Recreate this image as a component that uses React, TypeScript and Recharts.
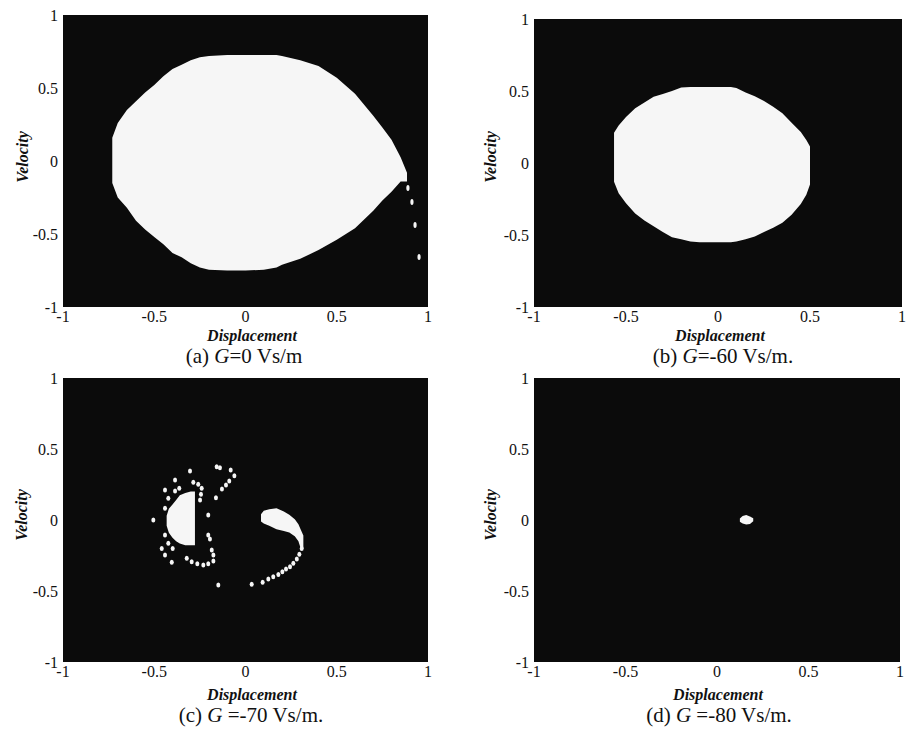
import { ComposedChart, Area, Scatter, XAxis, YAxis, CartesianGrid, Label } from 'recharts';

const SERIF = "'Liberation Serif', Tinos, 'Times New Roman', 'DejaVu Serif', serif";
const INK = '#111';
const BG = '#0b0b0b';
const BASIN = '#f6f6f6';

const AXIS_TICKS = [-1, -0.5, 0, 0.5, 1];

// (a) G=0 : main basin, velocity range [low, high] per displacement
const BASIN_A = [
  { x: -0.73, v: [-0.15, 0.16] },
  { x: -0.7, v: [-0.25, 0.26] },
  { x: -0.65, v: [-0.32, 0.35] },
  { x: -0.6, v: [-0.41, 0.41] },
  { x: -0.55, v: [-0.47, 0.47] },
  { x: -0.5, v: [-0.52, 0.52] },
  { x: -0.45, v: [-0.57, 0.58] },
  { x: -0.4, v: [-0.63, 0.63] },
  { x: -0.35, v: [-0.66, 0.66] },
  { x: -0.3, v: [-0.7, 0.69] },
  { x: -0.25, v: [-0.73, 0.71] },
  { x: -0.2, v: [-0.745, 0.72] },
  { x: -0.1, v: [-0.75, 0.726] },
  { x: 0, v: [-0.75, 0.726] },
  { x: 0.1, v: [-0.745, 0.726] },
  { x: 0.17, v: [-0.73, 0.726] },
  { x: 0.2, v: [-0.71, 0.72] },
  { x: 0.3, v: [-0.67, 0.69] },
  { x: 0.4, v: [-0.61, 0.65] },
  { x: 0.5, v: [-0.54, 0.57] },
  { x: 0.6, v: [-0.46, 0.46] },
  { x: 0.7, v: [-0.34, 0.31] },
  { x: 0.75, v: [-0.27, 0.23] },
  { x: 0.8, v: [-0.21, 0.145] },
  { x: 0.85, v: [-0.14, 0.025] },
  { x: 0.885, v: [-0.14, -0.08] },
];
// (a) isolated points trailing off the right tip
const TRAIL_A = [
  { x: 0.89, y: -0.185 },
  { x: 0.912, y: -0.281 },
  { x: 0.929, y: -0.438 },
  { x: 0.951, y: -0.658 },
];

// (b) G=-60
const BASIN_B = [
  { x: -0.565, v: [-0.13, 0.21] },
  { x: -0.54, v: [-0.21, 0.26] },
  { x: -0.5, v: [-0.28, 0.32] },
  { x: -0.45, v: [-0.35, 0.38] },
  { x: -0.4, v: [-0.4, 0.42] },
  { x: -0.35, v: [-0.44, 0.46] },
  { x: -0.3, v: [-0.48, 0.48] },
  { x: -0.25, v: [-0.515, 0.5] },
  { x: -0.2, v: [-0.53, 0.525] },
  { x: -0.15, v: [-0.545, 0.528] },
  { x: -0.1, v: [-0.55, 0.528] },
  { x: 0, v: [-0.55, 0.528] },
  { x: 0.07, v: [-0.55, 0.528] },
  { x: 0.1, v: [-0.545, 0.52] },
  { x: 0.15, v: [-0.53, 0.49] },
  { x: 0.2, v: [-0.51, 0.463] },
  { x: 0.25, v: [-0.48, 0.43] },
  { x: 0.3, v: [-0.45, 0.39] },
  { x: 0.35, v: [-0.415, 0.345] },
  { x: 0.4, v: [-0.36, 0.28] },
  { x: 0.45, v: [-0.285, 0.215] },
  { x: 0.48, v: [-0.22, 0.16] },
  { x: 0.5, v: [-0.15, 0.115] },
];

// (c) G=-70 : two fragments plus scattered points
const BASIN_C_LEFT = [
  { x: -0.432, v: [-0.04, 0.03] },
  { x: -0.42, v: [-0.09, 0.08] },
  { x: -0.4, v: [-0.125, 0.11] },
  { x: -0.38, v: [-0.15, 0.14] },
  { x: -0.36, v: [-0.165, 0.175] },
  { x: -0.33, v: [-0.178, 0.19] },
  { x: -0.3, v: [-0.178, 0.2] },
  { x: -0.277, v: [-0.178, 0.2] },
];
const BASIN_C_RIGHT = [
  { x: 0.085, v: [-0.01, 0.04] },
  { x: 0.1, v: [-0.025, 0.065] },
  { x: 0.13, v: [-0.04, 0.075] },
  { x: 0.17, v: [-0.065, 0.082] },
  { x: 0.21, v: [-0.078, 0.06] },
  { x: 0.24, v: [-0.088, 0.037] },
  { x: 0.27, v: [-0.115, 0.005] },
  { x: 0.29, v: [-0.15, -0.03] },
  { x: 0.3, v: [-0.19, -0.06] },
  { x: 0.317, v: [-0.2, -0.11] },
];
const SPECKS_C = [
  { x: -0.304, y: 0.345 }, { x: -0.158, y: 0.375 }, { x: -0.14, y: 0.368 },
  { x: -0.081, y: 0.352 }, { x: -0.061, y: 0.312 }, { x: -0.089, y: 0.275 },
  { x: -0.107, y: 0.246 }, { x: -0.129, y: 0.218 }, { x: -0.386, y: 0.282 },
  { x: -0.363, y: 0.223 }, { x: -0.386, y: 0.204 }, { x: -0.441, y: 0.211 },
  { x: -0.423, y: 0.153 }, { x: -0.162, y: 0.157 }, { x: -0.441, y: 0.082 },
  { x: -0.505, y: 0.0 }, { x: -0.204, y: 0.035 }, { x: -0.204, y: -0.106 },
  { x: -0.195, y: -0.134 }, { x: -0.185, y: -0.211 }, { x: -0.176, y: -0.246 },
  { x: -0.441, y: -0.106 }, { x: -0.423, y: -0.164 }, { x: -0.399, y: -0.2 },
  { x: -0.459, y: -0.2 }, { x: -0.441, y: -0.246 }, { x: -0.404, y: -0.298 },
  { x: -0.322, y: -0.27 }, { x: -0.295, y: -0.294 }, { x: -0.264, y: -0.308 },
  { x: -0.231, y: -0.317 }, { x: -0.204, y: -0.308 }, { x: -0.176, y: -0.289 },
  { x: -0.286, y: 0.265 }, { x: -0.259, y: 0.251 }, { x: -0.24, y: 0.223 },
  { x: -0.244, y: 0.181 }, { x: -0.249, y: 0.141 }, { x: -0.149, y: -0.458 },
  { x: 0.308, y: -0.2 }, { x: 0.295, y: -0.242 }, { x: 0.281, y: -0.275 },
  { x: 0.262, y: -0.305 }, { x: 0.244, y: -0.329 }, { x: 0.222, y: -0.345 },
  { x: 0.202, y: -0.364 }, { x: 0.18, y: -0.383 }, { x: 0.152, y: -0.399 },
  { x: 0.125, y: -0.415 }, { x: 0.094, y: -0.439 }, { x: 0.034, y: -0.453 },
];

// (d) G=-80 : tiny basin near origin
const BASIN_D = [
  { x: 0.125, v: [-0.012, 0.01] },
  { x: 0.14, v: [-0.025, 0.028] },
  { x: 0.16, v: [-0.032, 0.035] },
  { x: 0.18, v: [-0.028, 0.025] },
  { x: 0.198, v: [-0.008, 0.012] },
];

type Range = { x: number; v: number[] };
type Pt = { x: number; y: number };

interface PanelCfg {
  id: string;
  left: number;
  top: number;
  w: number;
  h: number;
  plot: [number, number, number, number];
  vel: [number, number];
  disp: [number, number];
  cap: [number, number];
  caption: [string, string];
  areas: Range[][];
  dots: Pt[];
  dotR: [number, number];
}

// top-row charts are a bit taller than their row so caption descenders are not clipped
const PANELS: PanelCfg[] = [
  {
    id: 'a', left: 0, top: 0, w: 455, h: 378, plot: [63, 15, 428, 307],
    vel: [22, 157], disp: [252, 335], cap: [244, 356], caption: ['(a) ', '=0 Vs/m'],
    areas: [BASIN_A], dots: TRAIL_A, dotR: [1.6, 3],
  },
  {
    id: 'b', left: 455, top: 0, w: 455, h: 378, plot: [534, 19, 902, 307],
    vel: [490, 157], disp: [720, 335], cap: [723, 356], caption: ['(b) ', '=-60 Vs/m.'],
    areas: [BASIN_B], dots: [], dotR: [1.5, 2],
  },
  {
    id: 'c', left: 0, top: 365, w: 455, h: 366, plot: [63, 378, 428, 662],
    vel: [21, 515], disp: [252, 694], cap: [251, 715], caption: ['(c) ', ' =-70 Vs/m.'],
    areas: [BASIN_C_LEFT, BASIN_C_RIGHT], dots: SPECKS_C, dotR: [2, 2.5],
  },
  {
    id: 'd', left: 455, top: 365, w: 455, h: 366, plot: [534, 378, 900, 662],
    vel: [490, 515], disp: [718, 694], cap: [719, 715], caption: ['(d) ', ' =-80 Vs/m.'],
    areas: [BASIN_D], dots: [], dotR: [1.5, 2],
  },
];

const X_AXIS_H = 56;

function Panel({ cfg }: { cfg: PanelCfg }) {
  const [x0, y0, x1, y1] = cfg.plot;
  const margin = {
    top: y0 - cfg.top,
    left: 0,
    right: cfg.left + cfg.w - x1,
    bottom: cfg.top + cfg.h - y1 - X_AXIS_H,
  };
  const ox = cfg.left;
  const oy = cfg.top;
  const titleStyle = { fontFamily: SERIF, fontWeight: 'bold' as const, fontStyle: 'italic' as const, fontSize: 16 };

  const titles = () => (
    <g fill={INK}>
      <text
        x={cfg.vel[0] - ox}
        y={cfg.vel[1] - oy}
        transform={`rotate(-90 ${cfg.vel[0] - ox} ${cfg.vel[1] - oy})`}
        textAnchor="middle"
        dominantBaseline="central"
        style={titleStyle}
      >
        Velocity
      </text>
      <text
        x={cfg.disp[0] - ox}
        y={cfg.disp[1] - oy}
        textAnchor="middle"
        dominantBaseline="central"
        style={titleStyle}
      >
        Displacement
      </text>
      <text
        x={cfg.cap[0] - ox}
        y={cfg.cap[1] - oy}
        textAnchor="middle"
        dominantBaseline="central"
        style={{ fontFamily: SERIF, fontSize: 21 }}
      >
        {cfg.caption[0]}
        <tspan style={{ fontStyle: 'italic' }}>G</tspan>
        {cfg.caption[1]}
      </text>
    </g>
  );

  const tick = { fill: INK, fontSize: 16, style: { fontFamily: SERIF } };

  return (
    <div style={{ position: 'absolute', left: cfg.left, top: cfg.top, fontFamily: SERIF }}>
      <ComposedChart width={cfg.w} height={cfg.h} margin={margin} style={{ fontFamily: SERIF }}>
        <CartesianGrid horizontal={false} vertical={false} fill={BG} fillOpacity={1} stroke="none" />
        <XAxis
          type="number"
          dataKey="x"
          domain={[-1, 1]}
          ticks={AXIS_TICKS}
          interval={0}
          height={X_AXIS_H}
          axisLine={false}
          tickLine={false}
          tickSize={0}
          tickMargin={4}
          tick={tick}
        >
          <Label content={titles} />
        </XAxis>
        <YAxis
          type="number"
          domain={[-1, 1]}
          ticks={AXIS_TICKS}
          interval={0}
          width={x0 - cfg.left}
          axisLine={false}
          tickLine={false}
          tickSize={0}
          tickMargin={5}
          tick={tick}
        />
        {cfg.areas.map((d, i) => (
          <Area
            key={`${cfg.id}-area-${i}`}
            data={d}
            dataKey="v"
            type="linear"
            stroke="none"
            fill={BASIN}
            fillOpacity={1}
            isAnimationActive={false}
            dot={false}
            activeDot={false}
          />
        ))}
        {cfg.dots.length > 0 && (
          <Scatter
            data={cfg.dots}
            dataKey="y"
            isAnimationActive={false}
            shape={(p: any) => (
              <ellipse cx={p.cx} cy={p.cy} rx={cfg.dotR[0]} ry={cfg.dotR[1]} fill={BASIN} />
            )}
          />
        )}
      </ComposedChart>
    </div>
  );
}

export default function App() {
  return (
    <div
      style={{
        position: 'absolute',
        left: 0,
        top: 0,
        width: 910,
        height: 731,
        background: '#fff',
        overflow: 'hidden',
        fontFamily: SERIF,
      }}
    >
      {PANELS.map((p) => (
        <Panel key={p.id} cfg={p} />
      ))}
    </div>
  );
}
